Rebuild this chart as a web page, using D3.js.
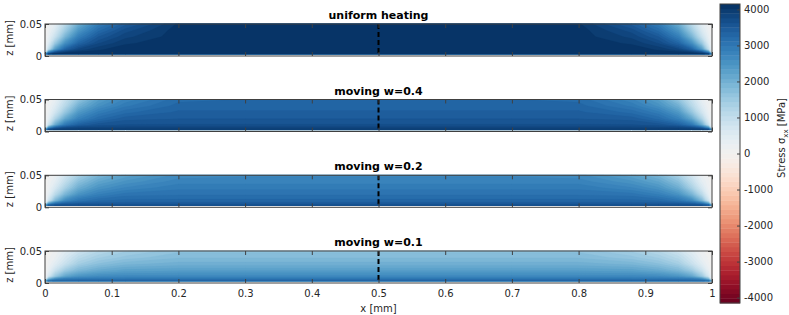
<!DOCTYPE html>
<html><head><meta charset="utf-8">
<script src="https://cdn.jsdelivr.net/npm/d3@7"></script>
<style>body{margin:0;background:#fff} text{font-family:"DejaVu Sans",sans-serif;fill:#262626}</style>
</head><body><svg id="c" width="789" height="315"></svg>
<script>
const titles = ["uniform heating", "moving w=0.4", "moving w=0.2", "moving w=0.1"];
const xGrid = [0, 0.005, 0.015, 0.03, 0.05, 0.08, 0.12, 0.2, 0.3, 0.5, 0.7, 0.8, 0.88, 0.92, 0.95, 0.97, 0.985, 0.995, 1];
const zGrid = [0.003, 0.0055, 0.01, 0.02, 0.03, 0.04, 0.05];
const xTicks = [0, 0.1, 0.2, 0.3, 0.4, 0.5, 0.6, 0.7, 0.8, 0.9, 1];
const xTickLabels = ["0", "0.1", "0.2", "0.3", "0.4", "0.5", "0.6", "0.7", "0.8", "0.9", "1"];
const zTicks = [0, 0.05];
const zTickLabels = ["0", "0.05"];
const cbTicks = [4000, 3000, 2000, 1000, 0, -1000, -2000, -3000, -4000];
const cbTickLabels = ["4000", "3000", "2000", "1000", "0", "-1000", "-2000", "-3000", "-4000"];
const cbLimit = 4150;
const dashX = 0.5;

// stress sigma_xx [MPa], rows = zGrid (bottom to top), columns = xGrid
const stressUniform = [
 [2450,3900,4100,4100,4100,4100,4100,4100,4100,4100,4100,4100,4100,4100,4100,4100,4100,3900,2450],
 [400,2800,3700,4000,4100,4100,4100,4100,4100,4100,4100,4100,4100,4100,4100,4000,3700,2800,400],
 [100,1000,2400,3350,3800,4000,4100,4100,4100,4100,4100,4100,4100,4000,3800,3350,2400,1000,100],
 [50,500,1500,2550,3300,3750,4000,4100,4100,4100,4100,4100,4000,3750,3300,2550,1500,500,50],
 [0,300,900,1900,2850,3500,3850,4100,4100,4100,4100,4100,3850,3500,2850,1900,900,300,0],
 [0,200,600,1450,2450,3200,3700,4100,4100,4100,4100,4100,3700,3200,2450,1450,600,200,0],
 [0,150,400,1100,2050,2900,3450,4050,4100,4100,4100,4050,3450,2900,2050,1100,400,150,0]
];
const stressW04 = [
 [2350,3750,3950,3950,3950,3950,3950,3950,3950,3950,3950,3950,3950,3950,3950,3950,3950,3750,2350],
 [400,2600,3450,3750,3850,3850,3850,3850,3850,3850,3850,3850,3850,3850,3850,3750,3450,2600,400],
 [50,900,2100,3000,3400,3600,3650,3650,3650,3650,3650,3650,3650,3600,3400,3000,2100,900,50],
 [50,400,1250,2150,2800,3200,3450,3500,3500,3500,3500,3500,3450,3200,2800,2150,1250,400,50],
 [0,250,750,1550,2400,2900,3200,3400,3400,3400,3400,3400,3200,2900,2400,1550,750,250,0],
 [0,150,500,1150,2000,2550,2950,3300,3300,3300,3300,3300,2950,2550,2000,1150,500,150,0],
 [0,150,300,900,1600,2300,2750,3200,3250,3250,3250,3200,2750,2300,1600,900,300,150,0]
];
const stressW02 = [
 [2200,3450,3650,3650,3650,3650,3650,3650,3650,3650,3650,3650,3650,3650,3650,3650,3650,3450,2200],
 [350,2400,3150,3450,3500,3500,3500,3500,3500,3500,3500,3500,3500,3500,3500,3450,3150,2400,350],
 [50,800,1900,2700,3050,3250,3300,3300,3300,3300,3300,3300,3300,3250,3050,2700,1900,800,50],
 [50,350,1100,1900,2500,2850,3050,3100,3100,3100,3100,3100,3050,2850,2500,1900,1100,350,50],
 [0,200,650,1350,2050,2500,2750,2950,2950,2950,2950,2950,2750,2500,2050,1350,650,200,0],
 [0,150,400,1000,1700,2200,2500,2800,2800,2800,2800,2800,2500,2200,1700,1000,400,150,0],
 [0,100,250,750,1350,1900,2250,2650,2700,2700,2700,2650,2250,1900,1350,750,250,100,0]
];
const stressW01 = [
 [2000,3150,3300,3300,3300,3300,3300,3300,3300,3300,3300,3300,3300,3300,3300,3300,3300,3150,2000],
 [300,2100,2800,3050,3100,3100,3100,3100,3100,3100,3100,3100,3100,3100,3100,3050,2800,2100,300],
 [50,700,1550,2200,2500,2650,2700,2700,2700,2700,2700,2700,2700,2650,2500,2200,1550,700,50],
 [0,300,850,1450,1850,2100,2250,2300,2300,2300,2300,2300,2250,2100,1850,1450,850,300,0],
 [0,150,450,900,1400,1700,1900,2000,2000,2000,2000,2000,1900,1700,1400,900,450,150,0],
 [0,100,250,650,1100,1400,1600,1800,1800,1800,1800,1800,1600,1400,1100,650,250,100,0],
 [0,50,150,450,800,1150,1400,1650,1650,1650,1650,1650,1400,1150,800,450,150,50,0]
];
const fields = [stressUniform, stressW04, stressW02, stressW01];

const svg = d3.select("#c");
const left = 45, right = 712, ph = 32;
const panelTops = [24, 99.5, 175.3, 251];
const x = d3.scaleLinear().domain([0, 1]).range([left, right]);
const nLev = 64;
const step = 2 * cbLimit / nLev;
const thresholds = d3.range(nLev).map(i => -cbLimit + i * step);
const color = v => d3.interpolateRdBu((v + cbLimit) / (2 * cbLimit));
const nx = xGrid.length, nz = zGrid.length;
const contours = d3.contours().size([nx, nz]).thresholds(thresholds);
const ix = d3.scaleLinear().domain(d3.range(nx)).range(xGrid).clamp(true);
const iz = d3.scaleLinear().domain(d3.range(nz)).range(zGrid).clamp(true);

fields.forEach((f, p) => {
  const top = panelTops[p];
  const y = d3.scaleLinear().domain([0, 0.05]).range([top + ph, top]);
  const proj = d3.geoTransform({point(a, b) { this.stream.point(x(ix(a - 0.5)), y(iz(b - 0.5))); }});
  const path = d3.geoPath(proj);
  const g = svg.append("g");
  const values = f.flat();
  const vmin = d3.min(values);
  const bands = contours(values).filter(c => c.value > vmin - step && c.coordinates.length);
  g.selectAll("path").data(bands).join("path")
    .attr("d", path)
    .attr("fill", d => color(d.value + step / 2))
    .attr("stroke", d => color(d.value + step / 2))
    .attr("stroke-width", 0.25);
  // dashed line
  g.append("line").attr("x1", x(dashX)).attr("x2", x(dashX)).attr("y1", top).attr("y2", top + ph)
    .attr("stroke", "#000").attr("stroke-width", 2).attr("stroke-dasharray", "5,3");
  // axes
  const last = p === fields.length - 1;
  const axB = svg.append("g").attr("transform", `translate(0,${top + ph})`)
    .call(d3.axisBottom(x).tickValues(xTicks).tickSizeInner(-4).tickSizeOuter(0).tickPadding(7)
      .tickFormat((d, i) => last ? xTickLabels[i] : ""));
  const axT = svg.append("g").attr("transform", `translate(0,${top})`)
    .call(d3.axisTop(x).tickValues(xTicks).tickSizeInner(-4).tickSizeOuter(0).tickFormat(""));
  const axL = svg.append("g").attr("transform", `translate(${left},0)`)
    .call(d3.axisLeft(y).tickValues(zTicks).tickSizeInner(-4).tickSizeOuter(0).tickPadding(3)
      .tickFormat((d, i) => zTickLabels[i]));
  const axR = svg.append("g").attr("transform", `translate(${right},0)`)
    .call(d3.axisRight(y).tickValues(zTicks).tickSizeInner(-4).tickSizeOuter(0).tickFormat(""));
  [axB, axT, axL, axR].forEach(a => {
    a.select(".domain").remove();
    a.selectAll("line").attr("stroke", "#404040");
    a.selectAll("text").attr("font-size", 10).attr("font-family", "DejaVu Sans").attr("fill", "#262626");
  });
  svg.append("rect").attr("x", left).attr("y", top).attr("width", right - left).attr("height", ph)
    .attr("fill", "none").attr("stroke", "#404040").attr("stroke-width", 1);
  svg.append("text").attr("x", x(0.5)).attr("y", top - 5).attr("text-anchor", "middle")
    .attr("font-size", 11).attr("font-weight", "bold").style("fill", "#000").text(titles[p]);
  svg.append("text").attr("transform", `translate(13,${top + ph / 2 - 2}) rotate(-90)`)
    .attr("text-anchor", "middle").attr("font-size", 10).text("z [mm]");
});

svg.append("text").attr("x", x(0.5)).attr("y", 312).attr("text-anchor", "middle")
  .attr("font-size", 10).text("x [mm]");

// colorbar
const cbX = 720, cbW = 20;
const cb = d3.scaleLinear().domain([-cbLimit, cbLimit]).range([303, 4]);
svg.append("g").selectAll("rect").data(thresholds).join("rect")
  .attr("x", cbX).attr("width", cbW)
  .attr("y", d => cb(d + step)).attr("height", d => cb(d) - cb(d + step) + 0.4)
  .attr("fill", d => color(d + step / 2));
const cbAx = svg.append("g").attr("transform", `translate(${cbX + cbW},0)`)
  .call(d3.axisRight(cb).tickValues(cbTicks).tickSizeInner(-3).tickSizeOuter(0).tickPadding(4)
    .tickFormat((d, i) => cbTickLabels[i]));
cbAx.select(".domain").remove();
cbAx.selectAll("line").attr("stroke", "#404040");
cbAx.selectAll("text").attr("font-size", 10).attr("font-family", "DejaVu Sans").attr("fill", "#262626");
svg.append("rect").attr("x", cbX).attr("y", 4).attr("width", cbW).attr("height", 299)
  .attr("fill", "none").attr("stroke", "#404040");
const lab = svg.append("text").attr("transform", "translate(785,138) rotate(-90)")
  .attr("text-anchor", "middle").attr("font-size", 10);
lab.append("tspan").text("Stress σ");
lab.append("tspan").attr("font-size", 7).attr("dy", 3).text("xx");
lab.append("tspan").attr("dy", -3).text(" [MPa]");
</script></body></html>
